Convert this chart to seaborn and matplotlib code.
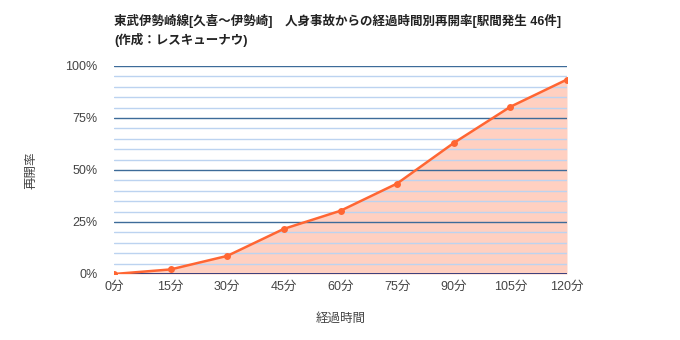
import matplotlib
matplotlib.use("Agg")
import matplotlib.pyplot as plt
import seaborn as sns
import pandas as pd
import numpy as np
from matplotlib.ticker import MultipleLocator, FuncFormatter

minutes = [0, 15, 30, 45, 60, 75, 90, 105, 120]
rates = [0.0, 2.2, 8.7, 21.7, 30.4, 43.5, 63.0, 80.4, 93.5]
tick_labels = ["0分", "15分", "30分", "45分", "60分", "75分", "90分", "105分", "120分"]
title = "東武伊勢崎線[久喜～伊勢崎]　人身事故からの経過時間別再開率[駅間発生 46件]\n(作成：レスキューナウ)"

df = pd.DataFrame({"minutes": minutes, "rate": rates})

sns.set_theme(style="white")
plt.rcParams['font.family'] = ['Liberation Sans', 'Noto Sans CJK JP', 'DejaVu Sans']

fig = plt.figure(figsize=(6.8, 3.4), dpi=100)
ax = fig.add_axes([114/680, 66/340, (567-114)/680, (274-66)/340])

line_color = "#ff6633"
ax.fill_between(df["minutes"], 0, df["rate"], color=line_color, alpha=0.3, lw=0, zorder=1)
sns.lineplot(data=df, x="minutes", y="rate", ax=ax, color=line_color, lw=1.8,
             marker="o", markersize=5, markeredgewidth=0, zorder=3)

ax.set_xlim(0, 120)
ax.set_ylim(0, 100)
ax.set_xticks(minutes)
ax.set_xticklabels(tick_labels)
ax.yaxis.set_major_locator(MultipleLocator(25))
ax.yaxis.set_minor_locator(MultipleLocator(5))
ax.yaxis.set_major_formatter(FuncFormatter(lambda v, p: f"{int(v)}%"))

ax.grid(which="minor", axis="y", color="#bcd3f0", lw=1, zorder=2)
ax.grid(which="major", axis="y", color="#3d6b99", lw=1, zorder=2)
ax.grid(which="major", axis="x", visible=False)
ax.set_axisbelow(False)
ax.axhline(0, color="#1a1a66", lw=1.2, zorder=2.5)

for s in ax.spines.values():
    s.set_visible(False)
ax.tick_params(axis="both", which="both", length=0, labelsize=9, labelcolor="#444444")
ax.tick_params(axis="x", pad=5)
ax.tick_params(axis="y", pad=12)

ax.set_xlabel("経過時間", fontsize=9, style="italic", color="#444444", labelpad=14)
ax.set_ylabel("再開率", fontsize=9, style="italic", color="#444444", labelpad=20)

fig.text(114/680, 1 - 14/340, title, fontsize=9, fontweight="bold", color="#222222",
         va="top", ha="left", linespacing=1.4)

fig.savefig("out.png", dpi=100)
